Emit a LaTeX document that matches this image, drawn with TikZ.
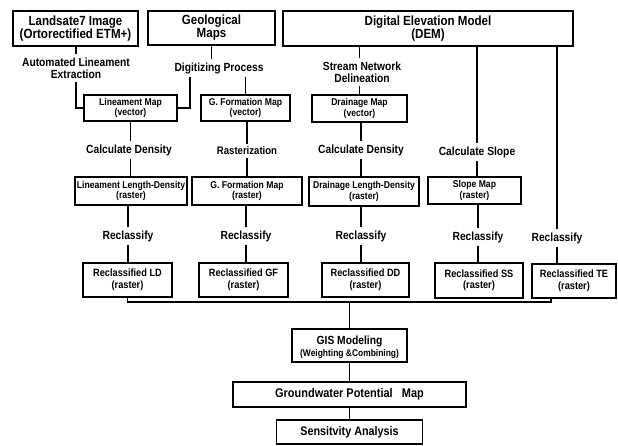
\documentclass[tikz,border=0pt]{standalone}
\usepackage{fontspec}
\setmainfont[FakeStretch=0.87]{Liberation Sans}
\begin{document}
\begin{tikzpicture}[x=1pt,y=-1pt,
  every node/.style={inner sep=0pt, align=center, font=\bfseries},
  box/.style={draw, line width=1.3pt, rectangle},
  bigtxt/.style={font=\bfseries\fontsize{13.3}{13}\selectfont},
  lbl/.style={font=\bfseries\fontsize{11.8}{12}\selectfont, inner sep=3pt},
  smalltxt/.style={font=\bfseries\fontsize{9.9}{10.5}\selectfont},
  rctxt/.style={font=\bfseries\fontsize{10.6}{11.5}\selectfont},
  conn/.style={line width=1.3pt}]
\useasboundingbox (0,0) rectangle (618,445);
% top sources
\node[box,bigtxt,minimum width=125pt,minimum height=35pt] (land) at (75.5,28.5) {Landsate7 Image\\(Ortorectified ETM+)};
\node[box,bigtxt,minimum width=127pt,minimum height=34pt] (geo) at (211.5,28) {Geological\\Maps};
\node[box,bigtxt,minimum width=290pt,minimum height=35pt] (dem) at (428,28.5) {Digital Elevation Model\\(DEM)};
% process labels
\node[lbl] (lab1) at (76,68) {Automated Lineament\\Extraction};
\node[lbl] (lab2) at (219,68) {Digitizing Process};
\node[lbl] (lab3) at (362,72) {Stream Network\\Delineation};
% vector maps
\node[box,smalltxt,minimum width=93pt,minimum height=26pt] (linv) at (130.5,108) {Lineament Map\\(vector)};
\node[box,smalltxt,minimum width=89pt,minimum height=26pt] (gfv) at (245.5,108) {G. Formation Map\\(vector)};
\node[box,smalltxt,minimum width=95pt,minimum height=27pt] (drv) at (359.5,108.5) {Drainage Map\\(vector)};
% second labels
\node[lbl] (lab4) at (129,150) {Calculate Density};
\node[lbl,font=\bfseries\fontsize{11}{12}\selectfont] (lab5) at (247,151) {Rasterization};
\node[lbl] (lab6) at (361,150) {Calculate Density};
\node[lbl] (lab7) at (477,152) {Calculate Slope};
% raster maps
\node[box,smalltxt,minimum width=112pt,minimum height=28pt] (linr) at (131,191) {Lineament Length-Density\\(raster)};
\node[box,smalltxt,minimum width=110pt,minimum height=28pt] (gfr) at (247,191) {G. Formation Map\\(raster)};
\node[box,smalltxt,minimum width=110pt,minimum height=29pt] (drr) at (364,191.5) {Drainage Length-Density\\(raster)};
\node[box,smalltxt,minimum width=93pt,minimum height=27pt] (slr) at (474.5,190.5) {Slope Map\\(raster)};
% reclassify labels
\node[lbl] (rc1) at (128,236) {Reclassify};
\node[lbl] (rc2) at (246,236) {Reclassify};
\node[lbl] (rc3) at (361,236) {Reclassify};
\node[lbl] (rc4) at (478,237) {Reclassify};
\node[lbl] (rc5) at (557,238) {Reclassify};
% reclassified
\node[box,rctxt,minimum width=89pt,minimum height=34pt] (rld) at (127.5,280) {Reclassified LD\\(raster)};
\node[box,rctxt,minimum width=89pt,minimum height=34pt] (rgf) at (243.5,280) {Reclassified GF\\(raster)};
\node[box,rctxt,minimum width=87pt,minimum height=34pt] (rdd) at (365.5,280) {Reclassified DD\\(raster)};
\node[box,rctxt,minimum width=88pt,minimum height=35pt] (rss) at (479,280.5) {Reclassified SS\\(raster)};
\node[box,rctxt,minimum width=84pt,minimum height=34pt] (rte) at (574,281) {Reclassified TE\\(raster)};
% bottom chain
\coordinate (bus) at (551,302);
\node[box,minimum width=115pt,minimum height=33pt] (gis) at (349.5,345.5) {};
\node[font=\bfseries\fontsize{11.8}{12}\selectfont] (gist) at (349.5,341) {GIS Modeling};
\node[font=\bfseries\fontsize{9.7}{10}\selectfont] (gisw) at (349.5,354.5) {(Weighting \&Combining)};
\node[box,font=\bfseries\fontsize{12.6}{13}\selectfont,minimum width=233pt,minimum height=25pt] (gw) at (349.5,394.5) {Groundwater Potential\ \ \ Map};
\node[box,font=\bfseries\fontsize{12.4}{13}\selectfont,minimum width=146pt,minimum height=24pt] (sa) at (349.5,432) {Sensitvity Analysis};
% connectors: Landsat branch
\draw[conn] (land.south -| lab1.north) -- (lab1.north);
\draw[conn] (lab1.south) |- (linv.west);
% geological branch
\draw[conn] (geo.south) -- (geo.south |- lab2.north);
\draw[conn] ([xshift=-29pt]lab2.south) |- (linv.east);
\draw[conn] (gfv.north |- lab2.south) -- (gfv.north);
% DEM branches
\draw[conn] (drv.north |- dem.south) -- (drv.north |- lab3.north);
\draw[conn] (drv.north |- lab3.south) -- (drv.north);
\draw[conn] (lab7.north |- dem.south) -- (lab7.north);
\draw[conn] (rc5.north |- dem.south) -- (rc5.north);
% vector -> raster
\draw[conn] (lab4.north -| linv.south) -- (linv.south);
\draw[conn] (lab4.south -| linv.south) -- (linr.north -| linv.south);
\draw[conn] (gfv.south -| lab5.north) -- (lab5.north);
\draw[conn] (lab5.south) -- (gfr.north -| lab5.south);
\draw[conn] (drv.south -| lab6.north) -- (lab6.north);
\draw[conn] (lab6.south) -- (drr.north -| lab6.south);
\draw[conn] (lab7.south) -- (slr.north -| lab7.south);
% raster -> reclassified
\draw[conn] (linr.south -| rc1.north) -- (rc1.north);
\draw[conn] (rc1.south) -- (rld.north -| rc1.south);
\draw[conn] (gfr.south -| rc2.north) -- (rc2.north);
\draw[conn] (rc2.south) -- (rgf.north -| rc2.south);
\draw[conn] (drr.south -| rc3.north) -- (rc3.north);
\draw[conn] (rc3.south) -- (rdd.north -| rc3.south);
\draw[conn] (slr.south -| rc4.north) -- (rc4.north);
\draw[conn] (rc4.south) -- (rss.north -| rc4.south);
\draw[conn] (rc5.south) -- (rte.north -| rc5.south);
% bus
\draw[conn] (rld.south) -- (rld.south |- bus) -- (bus) -- (bus |- rte.south);
\draw[conn] (gis.north |- bus) -- (gis.north);
\draw[conn] (gis.south) -- (gw.north);
\draw[conn] (gw.south) -- (sa.north);
\end{tikzpicture}
\end{document}
